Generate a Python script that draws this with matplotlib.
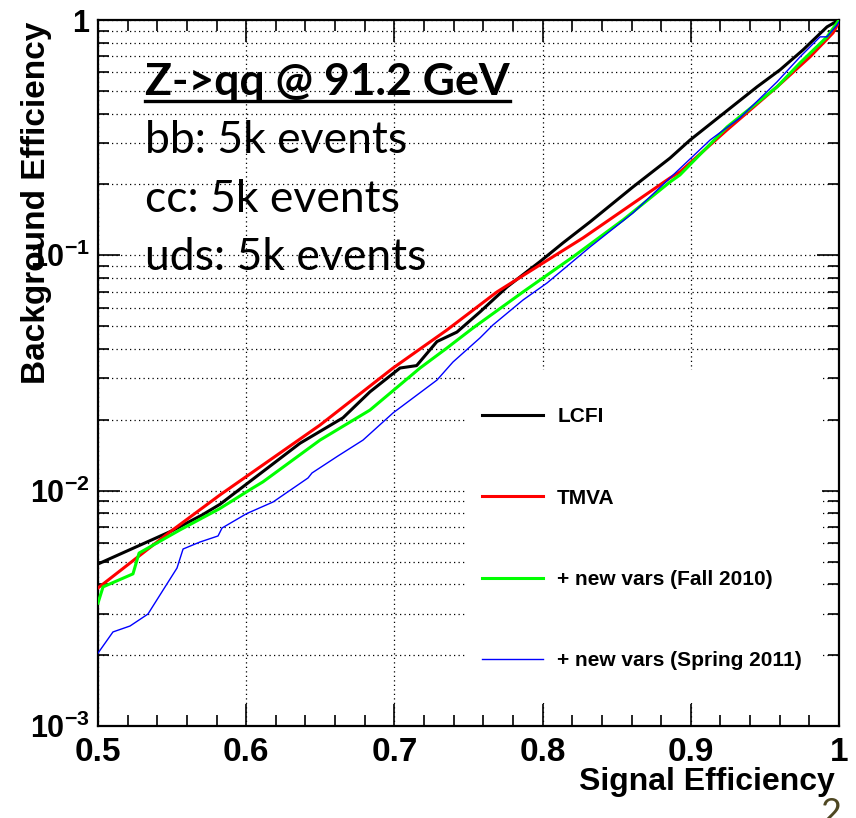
import matplotlib
matplotlib.use('Agg')
import matplotlib.pyplot as plt
from matplotlib.patches import Rectangle
from matplotlib.lines import Line2D
from matplotlib.ticker import FixedLocator, LogLocator, NullFormatter

# ---------------- data ----------------
lcfi_x = [0.500, 0.5499, 0.5702, 0.5823, 0.6363, 0.6653, 0.6835, 0.7038, 0.7150,
          0.7287, 0.7422, 0.7578, 0.7760, 0.7982, 0.8138, 0.8320, 0.8610, 0.8860,
          0.8995, 0.9447, 0.9602, 0.9757, 0.9919, 1.000]
lcfi_y = [0.00488, 0.00675, 0.00788, 0.00875, 0.0159, 0.0204, 0.0263, 0.0332, 0.0340,
          0.0430, 0.0472, 0.0575, 0.0734, 0.0940, 0.1130, 0.1387, 0.1953, 0.259,
          0.309, 0.520, 0.614, 0.746, 0.935, 1.000]

tmva_x = [0.500, 0.5486, 0.5823, 0.6498, 0.6991, 0.7355, 0.7692, 0.8003, 0.8273,
          0.8860, 0.8927, 0.9244, 0.9582, 0.9804, 0.9960, 1.000]
tmva_y = [0.00386, 0.00668, 0.00959, 0.0190, 0.0332, 0.0482, 0.0699, 0.0928, 0.1186,
          0.2133, 0.2262, 0.341, 0.520, 0.697, 0.882, 0.981]

fall_x = [0.500, 0.5034, 0.5236, 0.5277, 0.5553, 0.5823, 0.6026, 0.6113, 0.6498,
          0.6835, 0.7173, 0.7355, 0.7530, 0.7868, 0.8003, 0.8205, 0.8543, 0.8860,
          0.8927, 0.9244, 0.9582, 0.9737, 0.9919, 1.000]
fall_y = [0.00333, 0.00390, 0.00443, 0.00543, 0.00681, 0.0084, 0.0101, 0.0109, 0.0164,
          0.0220, 0.0332, 0.0404, 0.0491, 0.0699, 0.0802, 0.0985, 0.1414, 0.2050,
          0.2196, 0.351, 0.520, 0.657, 0.848, 1.000]

spring_x = [0.500, 0.5101, 0.5216, 0.5337, 0.5439, 0.5533, 0.5574, 0.5688, 0.5810,
            0.5837, 0.6005, 0.6181, 0.6417, 0.6444, 0.6619, 0.6788, 0.6991, 0.7287,
            0.7395, 0.7578, 0.7665, 0.7868, 0.8030, 0.8320, 0.8610, 0.8860, 0.9130,
            0.9332, 0.9582, 0.9737, 0.9872, 0.9919, 0.9987, 1.000]
spring_y = [0.00204, 0.00251, 0.00266, 0.00299, 0.00378, 0.00469, 0.00565, 0.00605, 0.00642,
            0.00694, 0.0080, 0.00895, 0.01132, 0.01189, 0.01404, 0.0164, 0.0214, 0.0295,
            0.0352, 0.0446, 0.0506, 0.0646, 0.0763, 0.1085, 0.1514, 0.2133, 0.309,
            0.384, 0.546, 0.697, 0.848, 0.848, 0.953, 0.981]

series_labels = ['LCFI', 'TMVA', '+ new vars (Fall 2010)', '+ new vars (Spring 2011)']
series_colors = ['#000000', '#ff0000', '#00ff00', '#0000ff']

x_ticks = [0.5, 0.6, 0.7, 0.8, 0.9, 1.0]
x_tick_labels = ['0.5', '0.6', '0.7', '0.8', '0.9', '1']
y_ticks = [1e-3, 1e-2, 1e-1, 1.0]
y_tick_labels = [r'$\mathbf{10^{-3}}$', r'$\mathbf{10^{-2}}$', r'$\mathbf{10^{-1}}$', r'$\mathbf{1}$']

x_label = 'Signal Efficiency'
y_label = 'Background Efficiency'
info_title = 'Z->qq @ 91.2 GeV'
info_lines = ['bb: 5k events', 'cc: 5k events', 'uds: 5k events']
page_number = '2'

# ---------------- style ----------------
plt.rcParams['font.family'] = ['Liberation Sans', 'DejaVu Sans']
plt.rcParams['mathtext.fontset'] = 'custom'
plt.rcParams['mathtext.rm'] = 'Liberation Sans:bold'
plt.rcParams['mathtext.bf'] = 'Liberation Sans:bold'
plt.rcParams['mathtext.it'] = 'Liberation Sans:bold'

W, H = 856, 818
fig = plt.figure(figsize=(W / 100, H / 100), dpi=100)
L, R, T, B = 98, 839, 20, 726
ax = fig.add_axes([L / W, 1 - B / H, (R - L) / W, (B - T) / H])

ax.set_xscale('linear')
ax.set_yscale('log')
ax.set_xlim(0.5, 1.0)
ax.set_ylim(1e-3, 1.0)

for s in ax.spines.values():
    s.set_linewidth(1.6)

ax.xaxis.set_major_locator(FixedLocator(x_ticks))
ax.set_xticklabels(x_tick_labels, fontsize=24, fontweight='bold')
ax.xaxis.set_minor_locator(FixedLocator([0.5 + 0.02 * i for i in range(26)]))
ax.yaxis.set_major_locator(FixedLocator(y_ticks))
ax.set_yticklabels(y_tick_labels, fontsize=22)
ax.yaxis.set_minor_locator(LogLocator(base=10, subs=range(2, 10), numticks=20))
ax.yaxis.set_minor_formatter(NullFormatter())

ax.tick_params(which='both', direction='in', top=True, right=True, width=1.2, colors='black')
ax.tick_params(which='major', length=16)
ax.tick_params(which='minor', length=8)
ax.tick_params(axis='x', which='major', pad=8)
ax.tick_params(axis='y', which='major', pad=6)

grid_kw = dict(color='black', linestyle=(0, (1, 2.6)), linewidth=0.9)
ax.grid(True, which='major', axis='x', **grid_kw)
ax.grid(True, which='both', axis='y', **grid_kw)
ax.set_axisbelow(True)

# white legend box (no border)
ax.add_patch(Rectangle((0.498, 0.0326), 0.479, 0.4714, transform=ax.transAxes,
                       facecolor='white', edgecolor='none', zorder=1))

ax.plot(lcfi_x, lcfi_y, color=series_colors[0], lw=2.2, zorder=3)
ax.plot(tmva_x, tmva_y, color=series_colors[1], lw=2.2, zorder=3)
ax.plot(fall_x, fall_y, color=series_colors[2], lw=2.2, zorder=3)
ax.plot(spring_x, spring_y, color=series_colors[3], lw=1.0, zorder=4)

handles = [Line2D([], [], color=series_colors[0], lw=2.2),
           Line2D([], [], color=series_colors[1], lw=2.2),
           Line2D([], [], color=series_colors[2], lw=2.2),
           Line2D([], [], color=series_colors[3], lw=1.0)]
leg = ax.legend(handles, series_labels, loc='upper left',
                bbox_to_anchor=((482 - L) / (R - L), (B - 407) / (B - T)),
                frameon=False, borderpad=0, borderaxespad=0,
                handlelength=2.93, handletextpad=0.68, labelspacing=3.0,
                prop={'family': 'Liberation Sans', 'weight': 'bold', 'size': 15})
leg.set_zorder(5)

fig.text(835 / W, 1 - 790 / H, x_label, ha='right', va='baseline',
         fontsize=23, fontweight='bold')
fig.text(37 / W, 1 - 22 / H, y_label, ha='center', va='top', rotation=90,
         fontsize=24, fontweight='bold')

t_title = fig.text(145 / W, 1 - 95 / H, info_title, ha='left', va='baseline',
                   fontsize=32, fontweight='bold', family=['Lato', 'DejaVu Sans'])
baselines = [153, 212, 270]
for line, yb in zip(info_lines, baselines):
    fig.text(145 / W, 1 - yb / H, line, ha='left', va='baseline',
             fontsize=32, family=['Lato', 'DejaVu Sans'])

fig.canvas.draw()
bb = t_title.get_window_extent()
uy = (H - 101) / H
fig.add_artist(Line2D([bb.x0 / W, bb.x1 / W], [uy, uy], color='black', lw=2.4))

fig.text(831 / W, 1 - 797 / H, page_number, ha='center', va='top', fontsize=26,
         color='#4e4722', family=['Lato', 'DejaVu Sans'])

fig.savefig('out.png', dpi=100)
